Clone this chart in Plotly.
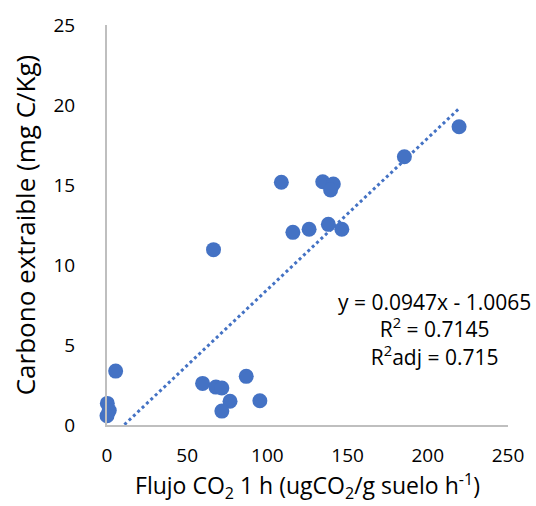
import plotly.graph_objects as go

flujo = [108.7, 134.5, 141.1, 139.4, 115.9, 126.0, 138.0, 146.4, 66.4, 5.4, 0.2, 1.4, 0.0,
         59.6, 67.9, 71.6, 86.8, 76.7, 71.6, 95.3, 185.4, 219.5]
carbono = [15.17, 15.2, 15.06, 14.69, 12.04, 12.23, 12.54, 12.23, 10.96, 3.37, 1.35, 0.9, 0.58,
           2.6, 2.37, 2.31, 3.04, 1.48, 0.87, 1.52, 16.77, 18.64]
slope = 0.0947
intercept = -1.0065
eq_lines = ["y = 0.0947x - 1.0065", "R<sup>2</sup> = 0.7145", "R<sup>2</sup>adj = 0.715"]

blue = "#4472C4"
font = "Open Sans, Liberation Sans, sans-serif"

xmin, xmax = min(flujo), max(flujo)
tx = [xmin, xmax]
ty = [slope * v + intercept for v in tx]

fig = go.Figure()
fig.add_trace(go.Scatter(x=tx, y=ty, mode="lines",
                         line=dict(color=blue, width=3, dash="dot"), hoverinfo="skip"))
fig.add_trace(go.Scatter(x=flujo, y=carbono, mode="markers", cliponaxis=False,
                         marker=dict(color=blue, size=15, line=dict(width=0))))

fig.add_annotation(x=0.8156, y=6.0, xref="paper", yref="y", xanchor="center", yanchor="middle",
                   text="<br>".join(eq_lines), showarrow=False, align="center",
                   font=dict(family=font, size=21, color="#000"))

fig.update_layout(
    width=536, height=506, showlegend=False,
    paper_bgcolor="white", plot_bgcolor="white",
    margin=dict(l=107, r=25, t=25, b=81),
    font=dict(family=font, color="#000"),
    xaxis=dict(range=[0, 250], tickvals=[0, 50, 100, 150, 200, 250], showgrid=False,
               zeroline=False, showline=True, linecolor="#BFBFBF", linewidth=2, ticks="",
               tickfont=dict(size=19, color="#000"), ticklabelstandoff=12,
               title=dict(text="Flujo CO<sub>2</sub> 1 h (ugCO<sub>2</sub>/g suelo h<sup>-1</sup>)",
                          font=dict(size=23, color="#000"), standoff=10)),
    yaxis=dict(range=[0, 25], tickvals=[0, 5, 10, 15, 20, 25], showgrid=False,
               zeroline=False, showline=True, linecolor="#BFBFBF", linewidth=2, ticks="",
               tickfont=dict(size=19, color="#000"), ticklabelstandoff=26,
               title=dict(text="Carbono extraible (mg C/Kg)", font=dict(size=26, color="#000"),
                          standoff=10)),
)
fig.write_html("out.html")
